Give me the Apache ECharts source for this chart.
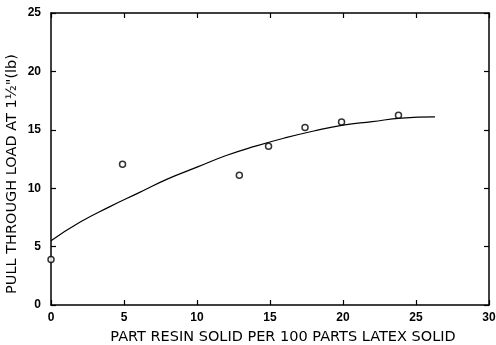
<!DOCTYPE html>
<html><head><meta charset="utf-8">
<script src="https://cdn.jsdelivr.net/npm/echarts@6/dist/echarts.min.js"></script>
<style>html,body{margin:0;padding:0;background:#fff}#c{width:496px;height:345px}</style>
</head><body><div id="c"></div>
<script>
const xTitle = 'PART RESIN SOLID PER 100 PARTS LATEX SOLID';
const yTitle = 'PULL THROUGH LOAD AT 1½"(lb)';
const pointsX = [0, 4.9, 12.9, 14.9, 17.4, 19.9, 23.8];
const pointsY = [3.9, 12.05, 11.1, 13.6, 15.2, 15.67, 16.24];
const curveX = [0, 2, 4, 6, 8, 10, 12, 14, 16, 18, 20, 22, 24, 26.3];
const curveY = [5.5, 7.1, 8.4, 9.6, 10.8, 11.8, 12.8, 13.6, 14.3, 14.9, 15.4, 15.7, 16.0, 16.1];

const chart = echarts.init(document.getElementById('c'));
const font = 'Liberation Sans, Arial, sans-serif';
const titleFont = 'DejaVu Sans, sans-serif';
function ax(extra) {
  return Object.assign({
    axisLine: {show: true, onZero: false, lineStyle: {color: '#000', width: 1.5}},
    axisTick: {show: true, inside: true, length: 5, lineStyle: {color: '#000', width: 1.2}},
    splitLine: {show: false}
  }, extra);
}
chart.setOption({
  animation: false,
  backgroundColor: '#fff',
  grid: {left: 51, right: 7, top: 13, bottom: 40, containLabel: false, outerBoundsMode: 'none'},
  xAxis: [
    ax({type: 'value', min: 0, max: 30, interval: 5, position: 'bottom',
      name: xTitle, nameLocation: 'middle', nameGap: 25, nameMoveOverlap: false,
      nameTextStyle: {fontFamily: titleFont, fontSize: 14.5, color: '#000', padding: [0, 0, 0, 26]},
      axisLabel: {fontFamily: font, fontSize: 12, fontWeight: 'bold', color: '#000', margin: 7}}),
    ax({type: 'value', min: 0, max: 30, interval: 5, position: 'top', axisLabel: {show: false}})
  ],
  yAxis: [
    ax({type: 'value', min: 0, max: 25, interval: 5, position: 'left',
      name: yTitle, nameLocation: 'middle', nameGap: 31, nameMoveOverlap: false,
      nameTextStyle: {fontFamily: titleFont, fontSize: 14.5, color: '#000', padding: [0, 30, 0, 0]},
      axisLabel: {fontFamily: font, fontSize: 12, fontWeight: 'bold', color: '#000', margin: 10}}),
    ax({type: 'value', min: 0, max: 25, interval: 5, position: 'right', axisLabel: {show: false}})
  ],
  series: [
    {type: 'line', data: curveX.map((x, i) => [x, curveY[i]]), smooth: true, showSymbol: false,
     lineStyle: {color: '#000', width: 1.2}, z: 2},
    {type: 'scatter', data: pointsX.map((x, i) => [x, pointsY[i]]), symbol: 'circle', symbolSize: 6,
     itemStyle: {color: '#fff', borderColor: '#000', borderWidth: 1.5}, z: 3}
  ]
});
</script></body></html>
